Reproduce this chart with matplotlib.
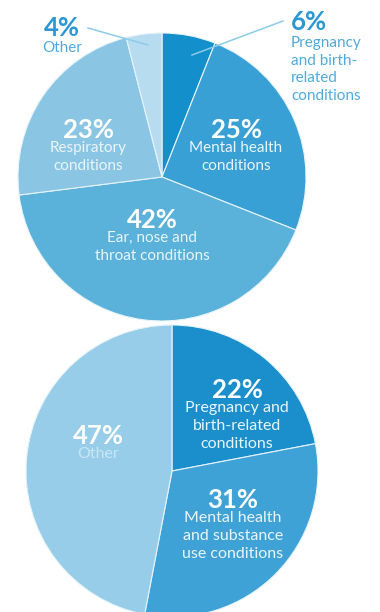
import matplotlib.pyplot as plt

plt.rcParams['font.family'] = ['Lato', 'DejaVu Sans']

# upper pie
top_labels = ['Pregnancy and birth-\nrelated conditions', 'Mental health\nconditions',
              'Ear, nose and\nthroat conditions', 'Respiratory\nconditions', 'Other']
top_values = [6, 25, 42, 23, 4]
top_colors = ['#138fcb', '#38a0d4', '#5ab1da', '#8ac6e4', '#b7dcef']

# lower pie
bottom_labels = ['Pregnancy and\nbirth-related\nconditions',
                 'Mental health\nand substance\nuse conditions', 'Other']
bottom_values = [22, 31, 47]
bottom_colors = ['#1a8fcc', '#3ea2d6', '#97cde8']

W, H = 380, 612
fig = plt.figure(figsize=(W / 100, H / 100), dpi=100)
ax = fig.add_axes([0, 0, 1, 1])

edge = dict(edgecolor='#e6f3fa', linewidth=0.8)
ax.pie(top_values, colors=top_colors, startangle=90, counterclock=False,
       center=(162, H - 177), radius=144, wedgeprops=edge, frame=True)
ax.pie(bottom_values, colors=bottom_colors, startangle=90, counterclock=False,
       center=(172, H - 471), radius=146, wedgeprops=edge, frame=True)
ax.set_xlim(0, W)
ax.set_ylim(0, H)
ax.set_aspect('equal')
ax.axis('off')

blue = '#2b98d3'
light = '#4eaadc'


def inside(x, y, pct, label, size=11, color='white', lcolor='#eaf5fb'):
    ax.text(x, H - y, f'{pct}%', ha='center', va='center', fontsize=18.5,
            fontweight='bold', color=color)
    ax.text(x, H - y - 11, label, ha='center', va='top', fontsize=size,
            color=lcolor, linespacing=1.35)


# labels inside the upper pie
inside(236, 130, top_values[1], top_labels[1])
inside(88, 130, top_values[3], top_labels[3])
inside(152, 220, top_values[2], top_labels[2])

# small slices labelled outside with leader lines
ax.plot([88, 148], [H - 28, H - 45], color='#8ccbea', lw=1.1)
ax.text(62, H - 28, f'{top_values[4]}%', ha='center', va='center',
        fontsize=18.5, fontweight='bold', color=blue)
ax.text(62, H - 48, top_labels[4], ha='center', va='center', fontsize=11, color=light)

ax.plot([283, 192], [H - 21, H - 55], color='#8ccbea', lw=1.1)
ax.text(291, H - 22, f'{top_values[0]}%', ha='left', va='center',
        fontsize=18.5, fontweight='bold', color=blue)
ax.text(291, H - 36, 'Pregnancy\nand birth-\nrelated\nconditions', ha='left', va='top',
        fontsize=11, color=light, linespacing=1.32)

# labels inside the lower pie
inside(237, 390, bottom_values[0], bottom_labels[0], size=11.5)
inside(233, 500, bottom_values[1], bottom_labels[1], size=11.5)
inside(98, 436, bottom_values[2], bottom_labels[2], size=11.5, lcolor='#c9e6f4')

fig.savefig('out.png', dpi=100)
